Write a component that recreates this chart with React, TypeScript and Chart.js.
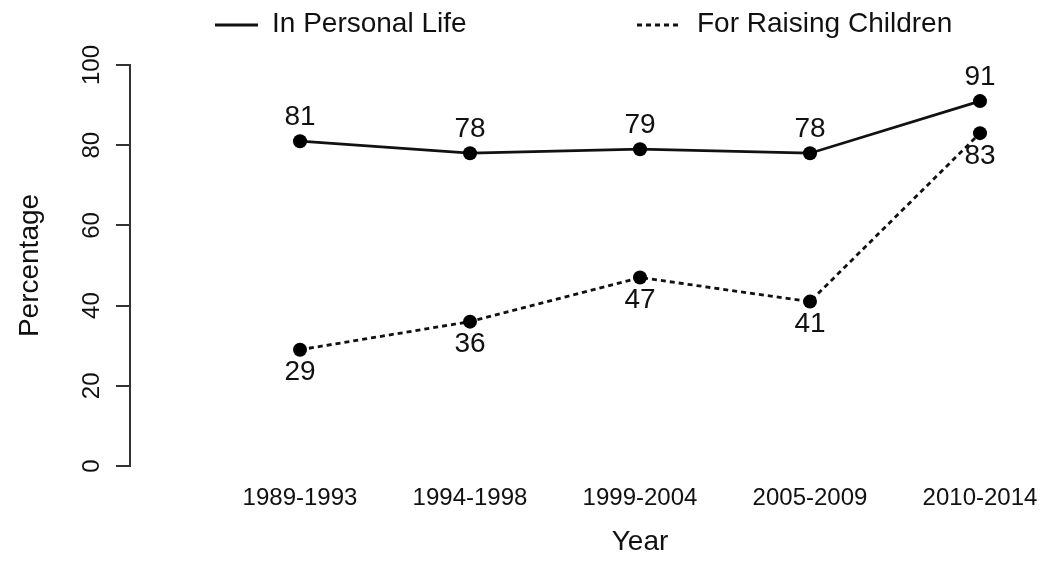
import React, { useEffect, useRef } from "react";
import { Chart, registerables } from "chart.js";

Chart.register(...registerables);

const categories = ["1989-1993", "1994-1998", "1999-2004", "2005-2009", "2010-2014"];
const personalLife = [81, 78, 79, 78, 91];
const raisingChildren = [29, 36, 47, 41, 83];
const yTicks = [0, 20, 40, 60, 80, 100];
const seriesNames = ["In Personal Life", "For Raising Children"];

const FONT = "'Liberation Sans', Arial, Helvetica, sans-serif";

const overlayPlugin = {
  id: "overlay",
  afterDraw(chart: any) {
    const ctx = chart.ctx as CanvasRenderingContext2D;
    const xs = chart.scales.x;
    const ys = chart.scales.y;
    const area = chart.chartArea;
    ctx.save();
    ctx.fillStyle = "#111";
    // rotated y tick labels
    ctx.font = `24px ${FONT}`;
    ctx.textAlign = "center";
    ctx.textBaseline = "middle";
    for (const t of ys.ticks) {
      const py = ys.getPixelForValue(t.value);
      ctx.save();
      ctx.translate(area.left - 38, py);
      ctx.rotate(-Math.PI / 2);
      ctx.fillText(String(t.value), 0, 0);
      ctx.restore();
    }
    // y title
    ctx.font = `28px ${FONT}`;
    ctx.save();
    ctx.translate(30, (area.top + area.bottom) / 2);
    ctx.rotate(-Math.PI / 2);
    ctx.fillText("Percentage", 0, 0);
    ctx.restore();
    // x title
    ctx.fillText("Year", xs.getPixelForValue((categories.length - 1) / 2), 542);

    // data labels
    ctx.font = `28px ${FONT}`;
    chart.data.datasets.forEach((ds: any, di: number) => {
      const meta = chart.getDatasetMeta(di);
      meta.data.forEach((pt: any, i: number) => {
        const v = ds.data[i].y;
        const off = di === 0 ? -24 : 23;
        ctx.fillText(String(v), pt.x, pt.y + off);
      });
    });

    // legend
    const ly = 24;
    const items = [
      { x0: 215, x1: 258, tx: 272, dash: [] as number[] },
      { x0: 637, x1: 681, tx: 697, dash: [5, 4] },
    ];
    items.forEach((it, i) => {
      ctx.beginPath();
      ctx.setLineDash(it.dash);
      ctx.lineWidth = 2.8;
      ctx.strokeStyle = "#111";
      ctx.moveTo(it.x0, ly + 1);
      ctx.lineTo(it.x1, ly + 1);
      ctx.stroke();
      ctx.setLineDash([]);
      ctx.textAlign = "left";
      ctx.fillText(seriesNames[i], it.tx, ly);
    });
    ctx.restore();
  },
};

export default function App() {
  const ref = useRef<HTMLCanvasElement | null>(null);
  useEffect(() => {
    document.body.style.margin = "0";
    const canvas = ref.current;
    if (!canvas) return;
    const chart = new Chart(canvas, {
      type: "line",
      data: {
        datasets: [
          {
            label: seriesNames[0],
            data: personalLife.map((v, i) => ({ x: i, y: v })),
            borderColor: "#111",
            backgroundColor: "#111",
            borderWidth: 2.8,
            pointRadius: 7,
            pointBackgroundColor: "#000",
            pointBorderWidth: 0,
            clip: false,
          },
          {
            label: seriesNames[1],
            data: raisingChildren.map((v, i) => ({ x: i, y: v })),
            borderColor: "#111",
            backgroundColor: "#111",
            borderWidth: 2.8,
            borderDash: [5, 4],
            pointRadius: 7,
            pointBackgroundColor: "#000",
            pointBorderWidth: 0,
            clip: false,
          },
        ],
      },
      options: {
        responsive: false,
        animation: false,
        devicePixelRatio: 1,
        layout: { padding: { top: 65, right: 16, left: 0, bottom: 0 } },
        plugins: { legend: { display: false }, tooltip: { enabled: false } },
        scales: {
          x: {
            type: "linear",
            min: -1,
            max: 4.4,
            afterBuildTicks: (scale: any) => {
              scale.ticks = categories.map((_, i) => ({ value: i }));
            },
            afterFit: (scale: any) => {
              scale.height = 101;
            },
            ticks: {
              callback: (v: any) => categories[v] ?? "",
              font: { family: FONT, size: 24 },
              color: "#111",
              padding: 10,
              maxRotation: 0,
              autoSkip: false,
            },
            grid: { display: false },
            border: { display: false },
          },
          y: {
            min: 0,
            max: 100,
            afterBuildTicks: (scale: any) => {
              scale.ticks = yTicks.map((v) => ({ value: v }));
            },
            afterFit: (scale: any) => {
              scale.width = 130;
            },
            ticks: { color: "rgba(0,0,0,0)", font: { size: 24 } },
            grid: {
              drawOnChartArea: false,
              drawTicks: true,
              tickLength: 14,
              tickColor: "#333",
              lineWidth: 2,
            },
            border: { display: true, color: "#333", width: 2 },
          },
        },
      },
      plugins: [overlayPlugin],
    });
    return () => chart.destroy();
  }, []);
  return (
    <div style={{ width: 1064, height: 567 }}>
      <canvas ref={ref} width={1064} height={567} />
    </div>
  );
}
